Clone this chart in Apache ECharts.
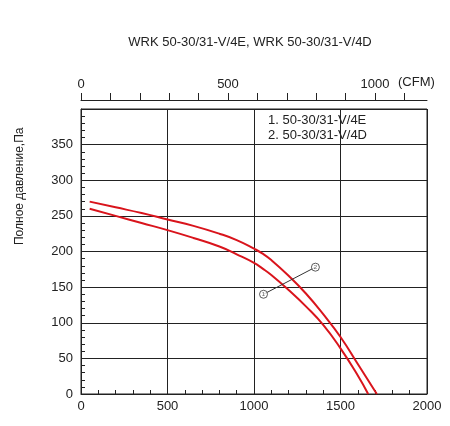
<!DOCTYPE html><html><head><meta charset="utf-8"><script src="https://cdn.jsdelivr.net/npm/echarts@6/dist/echarts.min.js"></script>
<style>body{margin:0}#c{width:450px;height:426px}</style></head><body><div id="c"></div><script>
const curve2 = [[50,270],[200,262],[350,254],[500,245],[650,236],[800,225],[900,216],[1000,204],[1050,197],[1100,188],[1200,166],[1300,141],[1400,112],[1500,80],[1600,42],[1710,0]];
const curve1 = [[50,260],[200,250],[350,240],[500,230],[650,219],[800,207],[900,196],[1000,184],[1050,176],[1100,167],[1200,146],[1300,123],[1400,97],[1500,64],[1600,26],[1660,0]];
const leader = [[1055,140],[1355,178]];
const markers = [[1055,140,'1'],[1355,178,'2']];
const legendLines = ['1. 50-30/31-V/4E','2. 50-30/31-V/4D'];
const c = echarts.init(document.getElementById('c'));
const F='Liberation Sans, Arial, sans-serif';
c.setOption({
 animation:false,
 title:{text:'WRK 50-30/31-V/4E, WRK 50-30/31-V/4D',left:245,top:31,textAlign:'center',textStyle:{fontFamily:F,fontSize:13,fontWeight:'normal',color:'#222'}},
 grid:{left:81,right:23,top:109,bottom:32,show:true,borderColor:'#222',borderWidth:1},
 graphic:[
  {type:'text',left:268,top:113,style:{text:legendLines.join('\n'),font:'13px '+F,fill:'#222',lineHeight:15}},
  {type:'text',x:14,y:245,rotation:Math.PI/2,style:{text:'Полное давление,Па',font:'12px '+F,fill:'#222'}},
  {type:'text',left:398,top:76,style:{text:'(CFM)',font:'13px '+F,fill:'#222'}}
 ],
 xAxis:[
  {type:'value',min:0,max:2000,interval:500,position:'bottom',
   axisLine:{lineStyle:{color:'#222'}},axisTick:{inside:true,length:6,lineStyle:{color:'#222'}},
   minorTick:{show:true,splitNumber:5,length:4,lineStyle:{color:'#222'}},
   axisLabel:{fontFamily:F,fontSize:13,color:'#222',margin:6,formatter:v=>String(v)},
   splitLine:{show:true,lineStyle:{color:'#222',width:1}}},
  {type:'value',min:0,max:1177,interval:100,position:'top',offset:9,
   axisLine:{show:true,lineStyle:{color:'#222'}},axisTick:{length:7,lineStyle:{color:'#222'}},
   axisLabel:{fontFamily:F,fontSize:13,color:'#222',margin:9,showMaxLabel:false,formatter:v=>v%500===0?String(v):''},
   splitLine:{show:false}}
 ],
 yAxis:{type:'value',min:0,max:400,interval:50,
   axisLine:{show:true,lineStyle:{color:'#222'}},axisTick:{inside:true,length:6,lineStyle:{color:'#222'}},
   minorTick:{show:true,splitNumber:5,length:4,lineStyle:{color:'#222'}},
   axisLabel:{fontFamily:F,fontSize:13,color:'#222',margin:8,formatter:v=>v===400?'':String(v)},
   splitLine:{show:true,lineStyle:{color:'#222',width:1}}},
 series:[
  {type:'line',data:curve2,smooth:true,symbol:'none',lineStyle:{color:'#d9141c',width:2}},
  {type:'line',data:curve1,smooth:true,symbol:'none',lineStyle:{color:'#d9141c',width:2}},
  {type:'line',data:leader,symbol:'none',lineStyle:{color:'#333',width:1}},
  {type:'scatter',data:markers,symbolSize:8,itemStyle:{color:'#fff',borderColor:'#333',borderWidth:1},
   label:{show:true,position:'inside',formatter:p=>p.value[2],fontSize:6,color:'#333'},z:5}
 ]
});
</script></body></html>
